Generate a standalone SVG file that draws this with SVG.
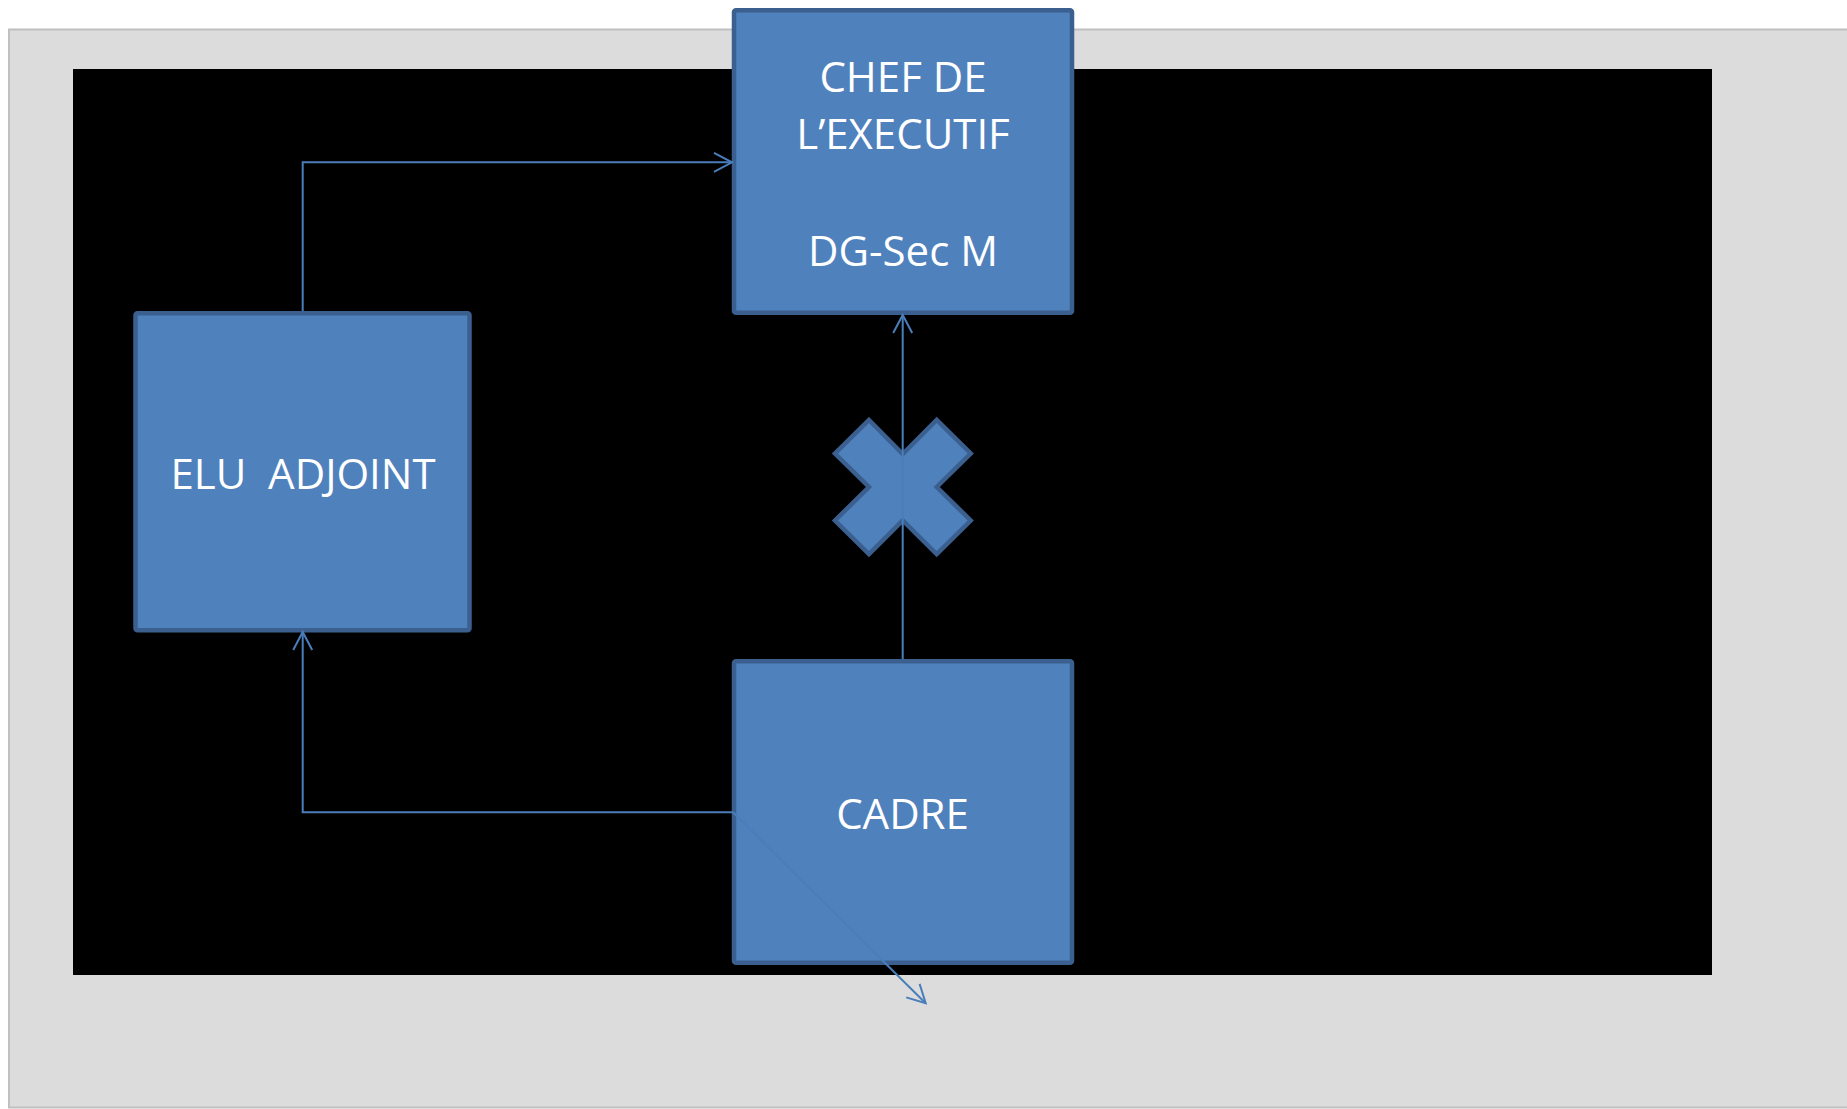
<svg xmlns="http://www.w3.org/2000/svg" width="1847" height="1109" viewBox="0 0 1847 1109">
  <style>
    .box { fill: #4f81bd; stroke: #3b6090; stroke-width: 4.5; }
    .lbl { fill: #ffffff; font-family: "Open Sans", "Noto Sans", "Liberation Sans", sans-serif; font-size: 42px; text-anchor: middle; }
    .conn { fill: none; stroke: #4a7ebb; stroke-width: 2; }
  </style>
  <defs>
    <marker id="arr" markerUnits="userSpaceOnUse" markerWidth="40" markerHeight="40" viewBox="-30 -20 40 40" refX="0" refY="0" orient="auto" overflow="visible">
      <path d="M-18,-9.5 L0,0 L-18,9.5" fill="none" stroke="#4a7ebb" stroke-width="2"/>
    </marker>
  </defs>

  <rect id="page" x="9" y="29.5" width="1845" height="1078" fill="#dcdcdc" stroke="#c0c0c0" stroke-width="2"/>
  <rect id="canvas" x="73" y="69" width="1639" height="906" fill="#000000"/>

  <g id="node-chef">
    <rect class="box" x="734" y="10.3" width="338" height="302.5" rx="2"/>
    <text class="lbl" x="903" y="91.5">CHEF DE</text>
    <text class="lbl" x="903" y="148.5">L’EXECUTIF</text>
    <text class="lbl" x="903" y="265.5">DG-Sec M</text>
  </g>

  <g id="node-elu">
    <rect class="box" x="135.5" y="313.3" width="334" height="317" rx="2"/>
    <text class="lbl" x="303" y="489" xml:space="preserve">ELU  ADJOINT</text>
  </g>

  <g id="node-cadre">
    <rect class="box" x="734" y="661.3" width="338" height="301.5" rx="2"/>
    <text class="lbl" x="902.5" y="829">CADRE</text>
  </g>

  <g id="node-cross">
    <polygon class="box" stroke-width="4" points="869,420 902.7,454 936.7,420 970.7,453.5 936.7,487 970.7,520.5 936.7,554 902.7,520.5 869,554 835,520.5 869,487 835,453.5"/>
  </g>

  <g id="connectors">
    <polyline class="conn" points="302.7,311 302.7,162.3 732,162.3" marker-end="url(#arr)"/>
    <polyline class="conn" points="902.7,659 902.7,315" marker-end="url(#arr)"/>
    <polyline class="conn" points="733,812.3 302.7,812.3 302.7,632" marker-end="url(#arr)"/>
    <line class="conn" x1="733" y1="812.3" x2="925.7" y2="1003.3" marker-end="url(#arr)"/>
  </g>
</svg>
